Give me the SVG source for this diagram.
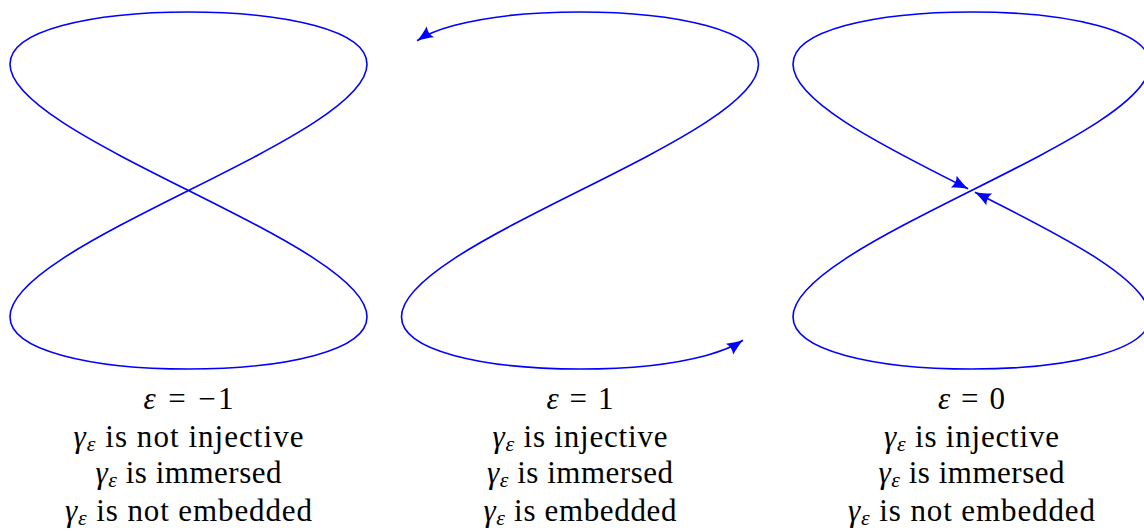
<svg xmlns="http://www.w3.org/2000/svg" width="1144" height="532" viewBox="0 0 1144 532">
<style>
.curve{fill:none;stroke:#0000ff;stroke-width:1.6;stroke-linejoin:round}
.lbl{font-family:"Liberation Serif","Times New Roman",serif;font-size:31px;fill:#000;text-anchor:middle}
.mi{font-style:italic}
.sub{font-style:italic;font-size:22px}
</style>
<defs>
<marker id="arr" viewBox="-18 -9 20 18" markerWidth="20" markerHeight="18" refX="0" refY="0" orient="auto-start-reverse" markerUnits="userSpaceOnUse">
<path d="M0,0 C-4.5,-1.2 -11,-4 -16,-6.5 C-13.8,-2.2 -13.8,2.2 -16,6.5 C-11,4 -4.5,1.2 0,0 Z" fill="#0000ff"/>
</marker>
</defs>
<rect width="1144" height="532" fill="#fff"/>
<g id="connectors">
<path id="curve-neg1" class="curve" transform="translate(188.5,190.5)" d="M0,-178.5 C46.73,-178.5 93.18,-173.85 126.22,-164.91 C159.26,-155.97 178.5,-142.74 178.5,-126.22 C178.5,-109.7 159.26,-89.9 126.22,-68.31 C93.18,-46.72 46.73,-23.37 0,0 C-46.73,23.37 -93.18,46.72 -126.22,68.31 C-159.26,89.9 -178.5,109.7 -178.5,126.22 C-178.5,142.74 -159.26,155.97 -126.22,164.91 C-93.18,173.85 -46.73,178.5 0,178.5 C46.73,178.5 93.18,173.85 126.22,164.91 C159.26,155.97 178.5,142.74 178.5,126.22 C178.5,109.7 159.26,89.9 126.22,68.31 C93.18,46.72 46.73,23.37 0,0 C-46.73,-23.37 -93.18,-46.72 -126.22,-68.31 C-159.26,-89.9 -178.5,-109.7 -178.5,-126.22 C-178.5,-142.74 -159.26,-155.97 -126.22,-164.91 C-93.18,-173.85 -46.73,-178.5 0,-178.5 Z"/>
<path id="curve-pos1" class="curve" transform="translate(580,190.5)" marker-start="url(#arr)" marker-end="url(#arr)" d="M-162.93,-149.79 C-154.07,-155.69 -141.56,-160.76 -126.22,-164.91 C-93.18,-173.85 -46.73,-178.5 0,-178.5 C46.73,-178.5 93.18,-173.85 126.22,-164.91 C159.26,-155.97 178.5,-142.74 178.5,-126.22 C178.5,-109.7 159.26,-89.9 126.22,-68.31 C93.18,-46.72 46.73,-23.37 0,0 C-46.73,23.37 -93.18,46.72 -126.22,68.31 C-159.26,89.9 -178.5,109.7 -178.5,126.22 C-178.5,142.74 -159.26,155.97 -126.22,164.91 C-93.18,173.85 -46.73,178.5 0,178.5 C46.73,178.5 93.18,173.85 126.22,164.91 C141.56,160.76 154.07,155.69 162.93,149.79"/>
<path id="curve-zero" class="curve" transform="translate(971.5,190.5)" marker-start="url(#arr)" marker-end="url(#arr)" d="M-3.4,-1.7 C-48.5,-24.2 -93.18,-46.72 -126.22,-68.31 C-159.26,-89.9 -178.5,-109.7 -178.5,-126.22 C-178.5,-142.74 -159.26,-155.97 -126.22,-164.91 C-93.18,-173.85 -46.73,-178.5 0,-178.5 C46.73,-178.5 93.18,-173.85 126.22,-164.91 C159.26,-155.97 178.5,-142.74 178.5,-126.22 C178.5,-109.7 159.26,-89.9 126.22,-68.31 C93.18,-46.72 46.73,-23.37 0,0 C-46.73,23.37 -93.18,46.72 -126.22,68.31 C-159.26,89.9 -178.5,109.7 -178.5,126.22 C-178.5,142.74 -159.26,155.97 -126.22,164.91 C-93.18,173.85 -46.73,178.5 0,178.5 C46.73,178.5 93.18,173.85 126.22,164.91 C159.26,155.97 178.5,142.74 178.5,126.22 C178.5,109.7 159.26,89.9 126.22,68.31 C93.18,46.72 48.5,24.2 3.4,1.7"/>
</g>
<g id="label-neg1">
<text class="lbl" x="188.5" y="409" textLength="90"><tspan class="mi">ε</tspan> = −1</text>
<text class="lbl" x="188.5" y="446.5" textLength="230"><tspan class="mi">γ</tspan><tspan class="sub" dy="4">ε</tspan><tspan dy="-4"> is not injective</tspan></text>
<text class="lbl" x="188.5" y="483" textLength="186"><tspan class="mi">γ</tspan><tspan class="sub" dy="4">ε</tspan><tspan dy="-4"> is immersed</tspan></text>
<text class="lbl" x="188.5" y="520.5" textLength="247"><tspan class="mi">γ</tspan><tspan class="sub" dy="4">ε</tspan><tspan dy="-4"> is not embedded</tspan></text>
</g>
<g id="label-pos1">
<text class="lbl" x="580" y="409" textLength="67"><tspan class="mi">ε</tspan> = 1</text>
<text class="lbl" x="580" y="446.5" textLength="175"><tspan class="mi">γ</tspan><tspan class="sub" dy="4">ε</tspan><tspan dy="-4"> is injective</tspan></text>
<text class="lbl" x="580" y="483" textLength="186"><tspan class="mi">γ</tspan><tspan class="sub" dy="4">ε</tspan><tspan dy="-4"> is immersed</tspan></text>
<text class="lbl" x="580" y="520.5" textLength="193"><tspan class="mi">γ</tspan><tspan class="sub" dy="4">ε</tspan><tspan dy="-4"> is embedded</tspan></text>
</g>
<g id="label-zero">
<text class="lbl" x="971.5" y="409" textLength="67"><tspan class="mi">ε</tspan> = 0</text>
<text class="lbl" x="971.5" y="446.5" textLength="175"><tspan class="mi">γ</tspan><tspan class="sub" dy="4">ε</tspan><tspan dy="-4"> is injective</tspan></text>
<text class="lbl" x="971.5" y="483" textLength="186"><tspan class="mi">γ</tspan><tspan class="sub" dy="4">ε</tspan><tspan dy="-4"> is immersed</tspan></text>
<text class="lbl" x="971.5" y="520.5" textLength="247"><tspan class="mi">γ</tspan><tspan class="sub" dy="4">ε</tspan><tspan dy="-4"> is not embedded</tspan></text>
</g>
</svg>
